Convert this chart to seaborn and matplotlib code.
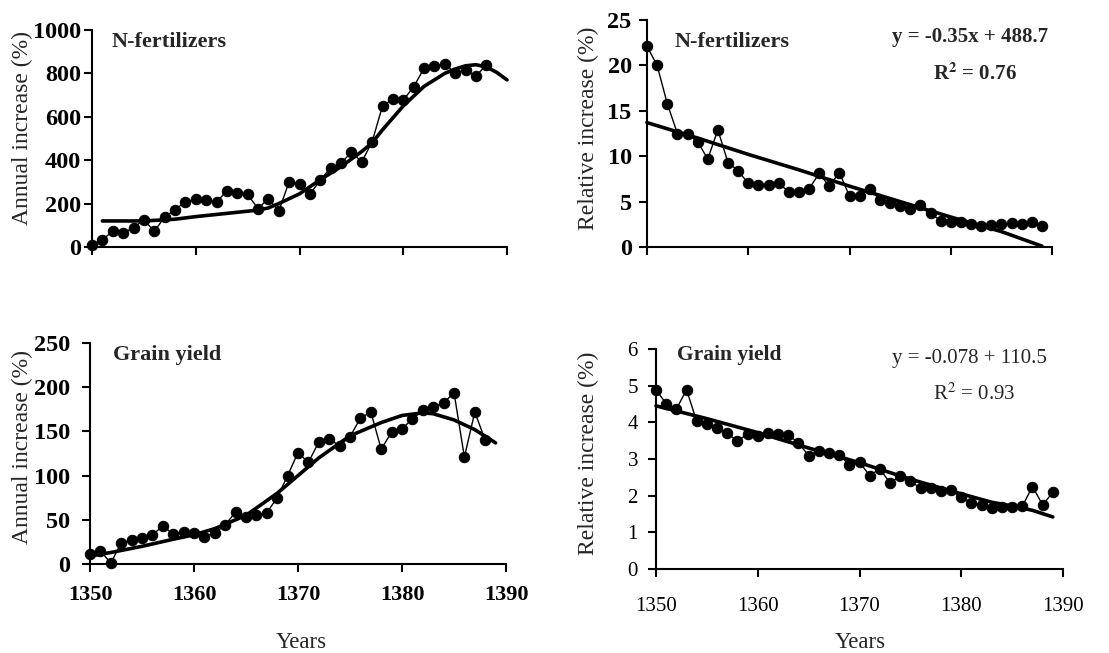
import numpy as np
import pandas as pd
import matplotlib
matplotlib.use("Agg")
import matplotlib.pyplot as plt
import seaborn as sns

# ---------------- data ----------------
years_nf_abs = list(range(1350, 1389))
nf_abs = [8, 34, 72, 66, 88, 126, 72, 138, 172, 208, 220, 215, 208, 258, 250, 242,
          177, 223, 166, 300, 292, 243, 308, 365, 385, 438, 392, 485, 650, 682, 677,
          738, 823, 834, 843, 803, 815, 788, 838]
trend_nf_abs_years = [1351, 1355, 1358, 1360, 1362, 1364, 1366, 1367, 1368, 1370, 1372,
                      1374, 1376, 1377, 1378, 1380, 1382, 1384, 1385, 1386, 1387, 1388,
                      1389, 1390]
trend_nf_abs = [120, 120, 128, 140, 150, 160, 170, 180, 200, 245, 310, 370, 440, 480, 540,
                650, 740, 800, 820, 835, 840, 830, 805, 770]

years_nf_rel = list(range(1350, 1390))
nf_rel = [22.1, 20.0, 15.8, 12.5, 12.4, 11.6, 9.7, 12.9, 9.3, 8.4, 7.0, 6.8, 6.8, 7.0,
          6.1, 6.1, 6.4, 8.1, 6.7, 8.2, 5.6, 5.6, 6.4, 5.2, 4.8, 4.5, 4.2, 4.6, 3.7, 2.9,
          2.7, 2.8, 2.5, 2.3, 2.4, 2.5, 2.6, 2.5, 2.7, 2.3]
trend_nf_rel_years = [1350, 1355, 1360, 1365, 1370, 1375, 1380, 1385, 1389]
trend_nf_rel = [13.7, 12.0, 10.2, 8.5, 6.7, 5.0, 3.3, 1.7, 0.1]

years_gy_abs = list(range(1350, 1389))
gy_abs = [11, 15, 1, 24, 27, 29, 33, 43, 34, 36, 35, 31, 35, 44, 59, 53, 55, 58, 75, 100,
          126, 115, 138, 141, 134, 144, 165, 172, 130, 149, 153, 164, 174, 178, 182, 194,
          121, 172, 140]
trend_gy_abs_years = [1350, 1352, 1355, 1358, 1360, 1362, 1365, 1368, 1370, 1372, 1375,
                      1378, 1380, 1382, 1383, 1385, 1387, 1389]
trend_gy_abs = [9, 13, 20, 28, 33, 40, 55, 80, 100, 120, 145, 160, 168, 171, 170, 163,
                152, 137]

years_gy_rel = list(range(1350, 1390))
gy_rel = [4.89, 4.51, 4.36, 4.89, 4.03, 3.96, 3.85, 3.71, 3.48, 3.69, 3.62, 3.71, 3.69,
          3.66, 3.44, 3.09, 3.23, 3.16, 3.12, 2.83, 2.91, 2.55, 2.73, 2.35, 2.53, 2.39,
          2.21, 2.21, 2.12, 2.15, 1.96, 1.80, 1.75, 1.66, 1.68, 1.68, 1.71, 2.25, 1.75,
          2.09]
trend_gy_rel_years = [1350, 1355, 1360, 1365, 1370, 1375, 1380, 1383, 1385, 1387, 1389]
trend_gy_rel = [4.45, 4.1, 3.72, 3.3, 2.9, 2.45, 2.05, 1.82, 1.72, 1.6, 1.42]

x_ticks = [1350, 1360, 1370, 1380, 1390]

# ---------------- style ----------------
sns.set_style("ticks")
plt.rcParams['font.family'] = ['Liberation Serif', 'DejaVu Serif']
plt.rcParams['mathtext.fontset'] = 'stix'

W, H = 1109, 653
fig = plt.figure(figsize=(W / 100, H / 100), dpi=100)


def ax_px(left, right, y0, ytop):
    return fig.add_axes([left / W, (H - y0) / H, (right - left) / W, (y0 - ytop) / H])


def draw(ax, xs, ys, txs, tys, ylim, yticks, bold_ticks, show_xlabels,
         ytick_fs, ypad, xtick_fs=15, xpad=10):
    df = pd.DataFrame({"Year": xs, "Value": ys})
    dt = pd.DataFrame({"Year": txs, "Value": tys})
    sns.lineplot(data=df, x="Year", y="Value", ax=ax, color="black", lw=1.0,
                 marker="o", markersize=7.5, markeredgecolor="black",
                 markerfacecolor="black", clip_on=False, zorder=3)
    sns.lineplot(data=dt, x="Year", y="Value", ax=ax, color="black", lw=2.6,
                 clip_on=False, zorder=4)
    ax.set_xlim(1350, 1390)
    ax.set_ylim(*ylim)
    ax.set_xticks(x_ticks)
    ax.set_yticks(yticks)
    sns.despine(ax=ax)
    for s in ("left", "bottom"):
        ax.spines[s].set_linewidth(1.5)
        ax.spines[s].set_color("black")
    ax.tick_params(direction="out", length=6, width=1.5, colors="black")
    ax.tick_params(axis="y", labelsize=ytick_fs, pad=ypad)
    ax.tick_params(axis="x", labelsize=xtick_fs, pad=xpad)
    weight = "bold" if bold_ticks else "normal"
    ax.set_yticklabels([str(t) for t in yticks], fontweight=weight)
    if show_xlabels:
        ax.set_xticklabels([str(t) for t in x_ticks], fontweight=weight)
    else:
        ax.set_xticklabels([])
    ax.set_xlabel("")
    ax.set_ylabel("")


ax1 = ax_px(92, 507, 247, 30)
draw(ax1, years_nf_abs, nf_abs, trend_nf_abs_years, trend_nf_abs, (0, 1000),
     [0, 200, 400, 600, 800, 1000], True, False, 17.5, 2)

ax2 = ax_px(647, 1052, 247, 20)
draw(ax2, years_nf_rel, nf_rel, trend_nf_rel_years, trend_nf_rel, (0, 25),
     [0, 5, 10, 15, 20, 25], True, False, 17.5, 5)

ax3 = ax_px(90, 506, 564, 343)
draw(ax3, years_gy_abs, gy_abs, trend_gy_abs_years, trend_gy_abs, (0, 250),
     [0, 50, 100, 150, 200, 250], True, True, 17.5, 8, xtick_fs=16, xpad=9)

ax4 = ax_px(656, 1063, 569, 349)
draw(ax4, years_gy_rel, gy_rel, trend_gy_rel_years, trend_gy_rel, (0, 6),
     [0, 1, 2, 3, 4, 5, 6], False, True, 15, 7, xtick_fs=15, xpad=14)


def ftxt(x, y, s, **kw):
    kw.setdefault("va", "center")
    fig.text(x / W, 1 - y / H, s, **kw)


# axis titles
ftxt(22, 128, "Annual increase (%)", fontsize=17, rotation=90, ha="center")
ftxt(588, 128, "Relative increase (%)", fontsize=17, rotation=90, ha="center")
ftxt(22, 447, "Annual increase (%)", fontsize=17, rotation=90, ha="center")
ftxt(588, 453, "Relative increase (%)", fontsize=17, rotation=90, ha="center")
ftxt(301, 642, "Years", fontsize=16.5, ha="center")
ftxt(860, 642, "Years", fontsize=16.5, ha="center")

# panel annotations
ftxt(112, 42, "N-fertilizers", fontsize=16, fontweight="bold")
ftxt(675, 42, "N-fertilizers", fontsize=16, fontweight="bold")
ftxt(113, 355, "Grain yield", fontsize=16, fontweight="bold")
ftxt(677, 355, "Grain yield", fontsize=15.5, fontweight="bold")
ftxt(1048, 37, "y = -0.35x + 488.7", fontsize=15, fontweight="bold", ha="right")
ftxt(933, 74, r"R$^{\mathbf{2}}$ = 0.76", fontsize=15, fontweight="bold", ha="left")
ftxt(1047, 358, "y = -0.078 + 110.5", fontsize=15, ha="right")
ftxt(933, 394, r"R$^2$ = 0.93", fontsize=15, ha="left")

fig.savefig("out.png", dpi=100, facecolor="white")
